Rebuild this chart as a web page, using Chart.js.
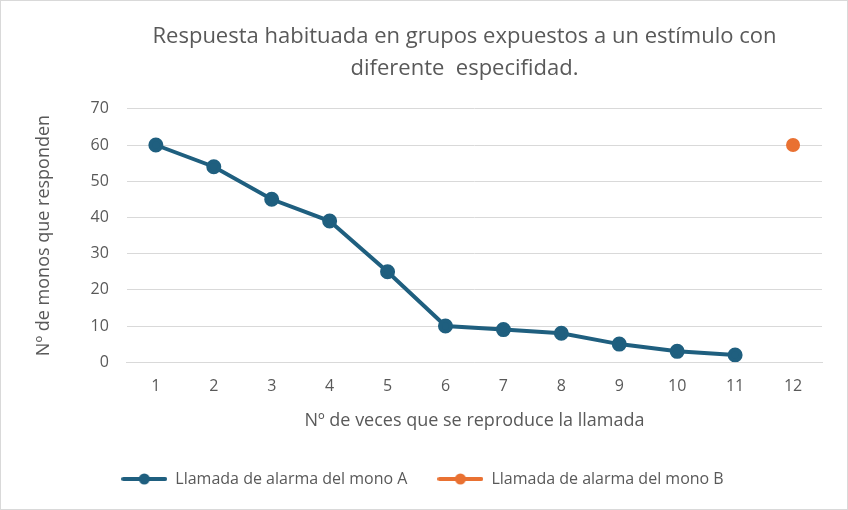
<!DOCTYPE html>
<html>
<head>
<meta charset="utf-8">
<script src="https://cdn.jsdelivr.net/npm/chart.js@4.4.1/dist/chart.umd.min.js"></script>
<style>
  html, body { margin: 0; padding: 0; background: #fff; }
  #wrap { width: 846px; height: 508px; border: 1px solid #d9d9d9; }
</style>
</head>
<body>
<div id="wrap"><canvas id="myLineChart" width="846" height="508"></canvas></div>
<script>
const categorias = ['1', '2', '3', '4', '5', '6', '7', '8', '9', '10', '11', '12'];
const monoA = [60, 54, 45, 39, 25, 10, 9, 8, 5, 3, 2, null];
const monoB = [null, null, null, null, null, null, null, null, null, null, null, 60];
const colorA = '#1F5F7F';
const colorB = '#E97132';
const gris = '#595959';

function iconoLeyenda(color) {
    const c = document.createElement('canvas');
    c.width = 46; c.height = 14;
    const ctx = c.getContext('2d');
    ctx.strokeStyle = color;
    ctx.lineWidth = 4;
    ctx.lineCap = 'round';
    ctx.beginPath();
    ctx.moveTo(2, 7); ctx.lineTo(44, 7);
    ctx.stroke();
    ctx.fillStyle = color;
    ctx.beginPath();
    ctx.arc(23, 7, 5.5, 0, Math.PI * 2);
    ctx.fill();
    return c;
}

// desplaza el título un poco a la derecha, como en el original
const moverTitulo = {
    id: 'moverTitulo',
    afterLayout(chart) {
        if (chart.titleBlock) {
            chart.titleBlock.left += 42;
            chart.titleBlock.right += 42;
        }
    }
};

const ctxLine = document.getElementById('myLineChart').getContext('2d');
new Chart(ctxLine, {
    type: 'line',
    plugins: [moverTitulo],
    data: {
        labels: categorias,
        datasets: [{
            label: 'Llamada de alarma del mono A',
            data: monoA,
            borderColor: colorA,
            backgroundColor: colorA,
            borderWidth: 4,
            pointRadius: 5.5,
            pointHoverRadius: 5.5,
            tension: 0
        }, {
            label: 'Llamada de alarma del mono B',
            data: monoB,
            borderColor: colorB,
            backgroundColor: colorB,
            borderWidth: 4,
            pointRadius: 5,
            pointHoverRadius: 5
        }]
    },
    options: {
        responsive: false,
        animation: false,
        layout: { padding: { left: 22, right: 25, top: 0, bottom: 12 } },
        scales: {
            x: {
                offset: true,
                grid: { display: false },
                border: { color: '#d9d9d9' },
                ticks: { color: gris, font: { family: 'Open Sans', size: 16 }, padding: 7 },
                title: {
                    display: true,
                    text: 'Nº de veces que se reproduce la llamada',
                    color: gris,
                    font: { family: 'Open Sans', size: 18 },
                    padding: { top: 7, bottom: 9 }
                }
            },
            y: {
                min: 0,
                max: 70,
                ticks: { stepSize: 10, color: gris, font: { family: 'Open Sans', size: 16 }, padding: 18 },
                grid: { color: '#d9d9d9', drawTicks: false },
                border: { display: false },
                title: {
                    display: true,
                    text: 'Nº de monos que responden',
                    color: gris,
                    font: { family: 'Open Sans', size: 18 },
                    padding: { top: 10, bottom: 18 }
                }
            }
        },
        plugins: {
            title: {
                display: true,
                text: ['Respuesta habituada en grupos expuestos a un estímulo con', 'diferente  especifidad.'],
                color: gris,
                font: { family: 'Open Sans', size: 22, weight: 'normal', lineHeight: 1.45 },
                padding: { top: 20, bottom: 24 }
            },
            legend: {
                display: true,
                position: 'bottom',
                labels: {
                    usePointStyle: true,
                    pointStyleWidth: 46,
                    boxHeight: 14,
                    color: gris,
                    font: { family: 'Open Sans', size: 16 },
                    padding: 30,
                    generateLabels: chart => chart.data.datasets.map((ds, i) => ({
                        text: ds.label,
                        fontColor: gris,
                        pointStyle: iconoLeyenda(ds.borderColor),
                        datasetIndex: i,
                        hidden: false
                    }))
                }
            },
            tooltip: { enabled: false }
        }
    }
});
</script>
</body>
</html>
